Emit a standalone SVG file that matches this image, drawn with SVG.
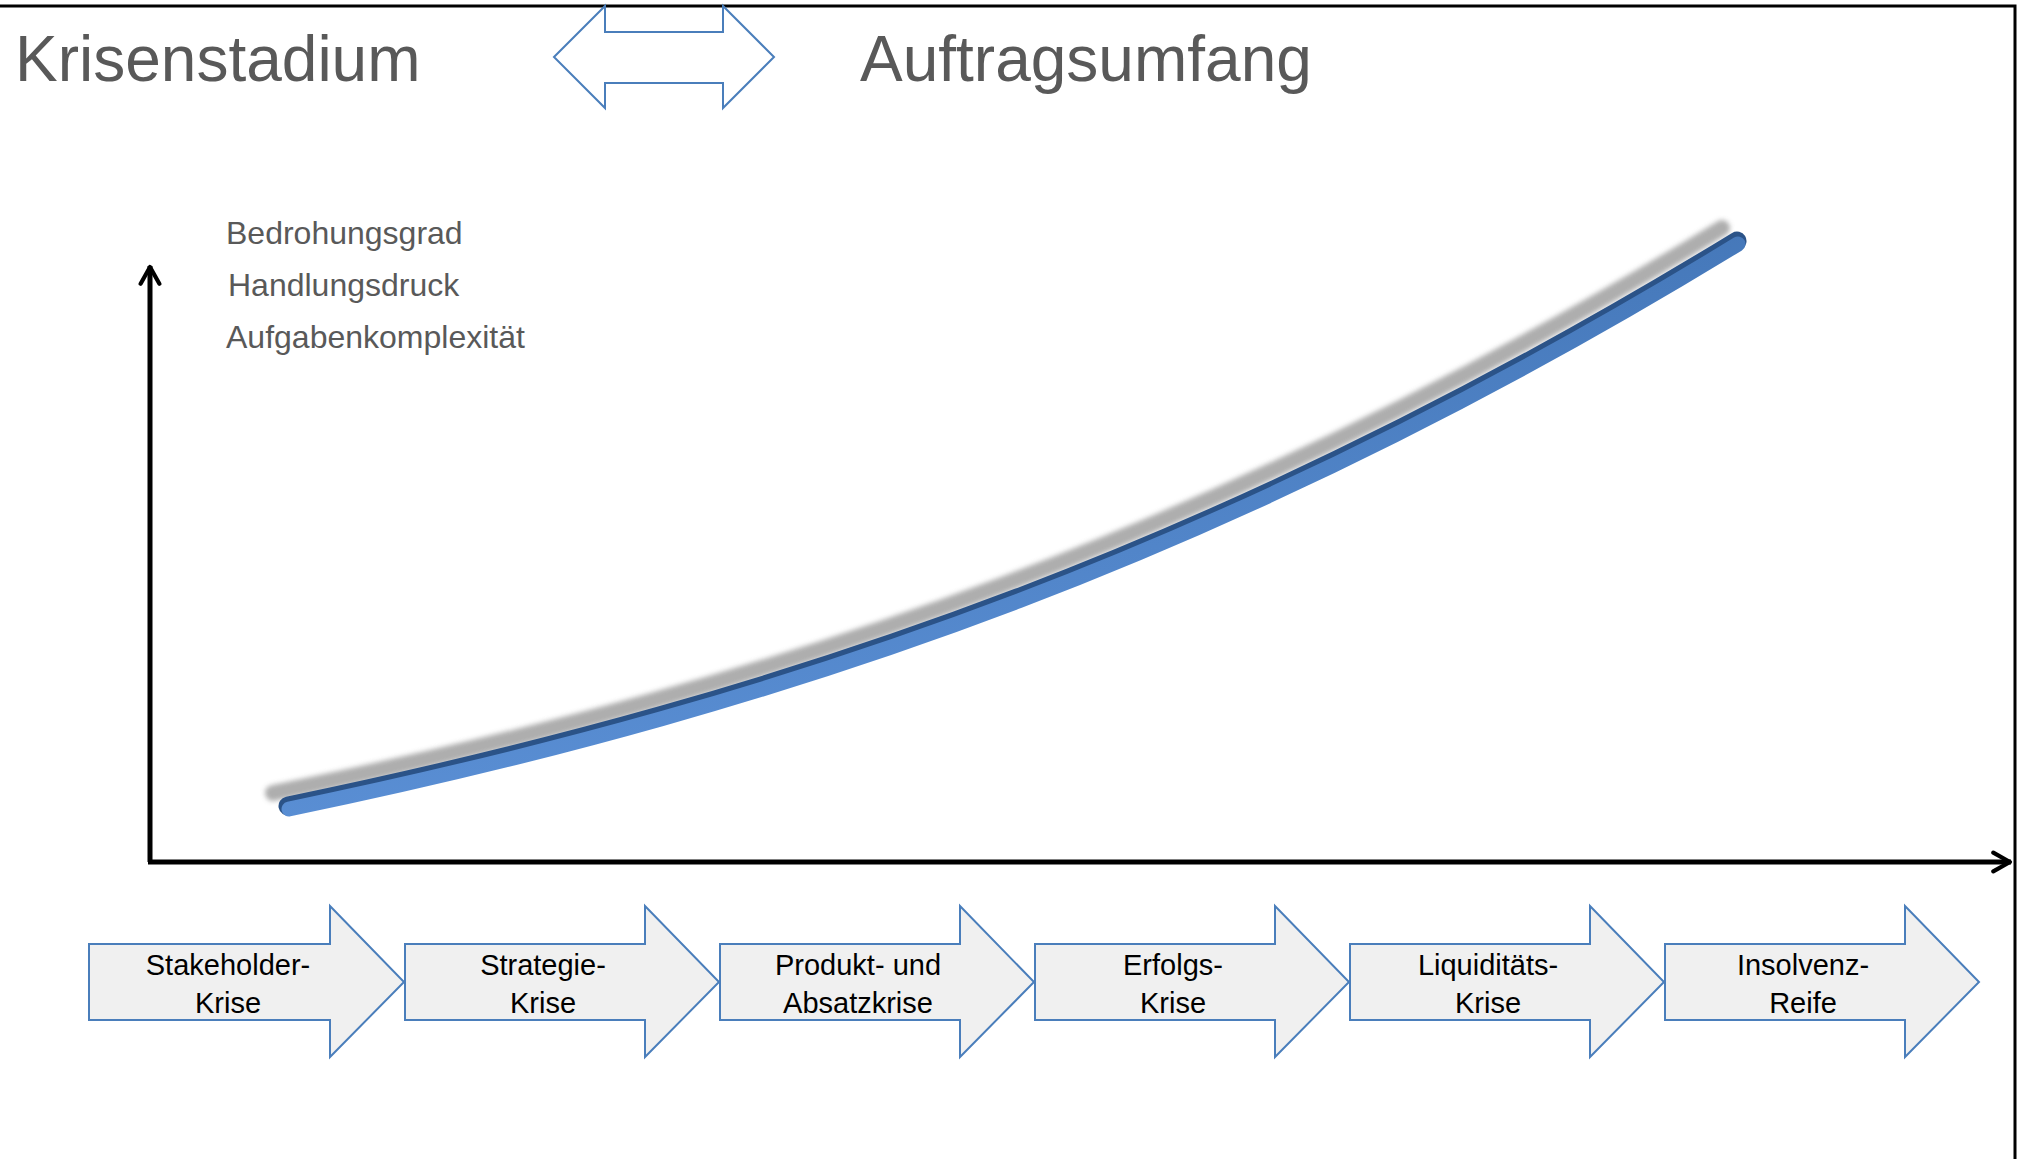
<svg xmlns="http://www.w3.org/2000/svg" width="2022" height="1159" viewBox="0 0 2022 1159">
<defs>
<style>
.title{font-family:"Liberation Sans",Arial,sans-serif;font-size:64px;fill:#595959}
.ylab{font-family:"Liberation Sans",Arial,sans-serif;font-size:32px;fill:#595959}
.phase{fill:#f0f0f0;stroke:#4a7ebb;stroke-width:2}
.ptxt{font-family:"Liberation Sans",Arial,sans-serif;font-size:29px;fill:#000;text-anchor:middle}
.axis{fill:none;stroke:#000;stroke-width:5}
</style>
<marker id="ah" viewBox="0 0 12 12" refX="10.5" refY="6" markerWidth="5" markerHeight="5" markerUnits="strokeWidth" orient="auto">
<path d="M2,1.5 L10,6 L2,10.5" fill="none" stroke="#000" stroke-width="2" stroke-linecap="round" stroke-linejoin="round"/>
</marker>
<filter id="blur" x="-10%" y="-10%" width="120%" height="120%"><feGaussianBlur stdDeviation="2.5"/></filter>
<linearGradient id="tube" x1="0" y1="0" x2="0.3" y2="1">
<stop offset="0" stop-color="#3e70b0"/>
<stop offset="1" stop-color="#5b90d6"/>
</linearGradient>
</defs>
<rect width="2022" height="1159" fill="#fff"/>
<path d="M0,6 H2015 V1159" fill="none" stroke="#000" stroke-width="3"/>

<g id="title-left"><text class="title" x="15" y="81">Krisenstadium</text></g>
<g id="double-arrow"><polygon points="554,57 605,6 605,32 723,32 723,6 774,57 723,108 723,83 605,83 605,108" fill="#fff" stroke="#4a7ebb" stroke-width="2"/></g>
<g id="title-right"><text class="title" x="860" y="81">Auftragsumfang</text></g>

<g id="y-labels">
<text class="ylab" x="226" y="244">Bedrohungsgrad</text>
<text class="ylab" x="228" y="296">Handlungsdruck</text>
<text class="ylab" x="226" y="348">Aufgabenkomplexität</text>
</g>

<g id="connectors">
<line class="axis" x1="150" y1="862" x2="150" y2="266" marker-end="url(#ah)"/>
<line class="axis" x1="148" y1="862" x2="2011" y2="862" marker-end="url(#ah)"/>
</g>

<g id="curve">
<path d="M288,806 C800,700 1240,545 1737,241" transform="translate(-15,-13)" fill="none" stroke="#9a9a9a" stroke-width="16" stroke-linecap="round" opacity="0.8" filter="url(#blur)"/>
<path d="M288,806 C800,700 1240,545 1737,241" fill="none" stroke="#2b5388" stroke-width="19" stroke-linecap="round"/>
<path d="M288,806 C800,700 1240,545 1737,241" transform="translate(1,3)" fill="none" stroke="url(#tube)" stroke-width="15" stroke-linecap="round"/>
</g>

<g id="phase-1"><polygon class="phase" points="89,944 330,944 330,906 404,982 330,1057 330,1020 89,1020"/><text class="ptxt" x="228" y="975">Stakeholder-</text><text class="ptxt" x="228" y="1013">Krise</text></g>
<g id="phase-2"><polygon class="phase" points="405,944 645,944 645,906 719,982 645,1057 645,1020 405,1020"/><text class="ptxt" x="543" y="975">Strategie-</text><text class="ptxt" x="543" y="1013">Krise</text></g>
<g id="phase-3"><polygon class="phase" points="720,944 960,944 960,906 1034,982 960,1057 960,1020 720,1020"/><text class="ptxt" x="858" y="975">Produkt- und</text><text class="ptxt" x="858" y="1013">Absatzkrise</text></g>
<g id="phase-4"><polygon class="phase" points="1035,944 1275,944 1275,906 1349,982 1275,1057 1275,1020 1035,1020"/><text class="ptxt" x="1173" y="975">Erfolgs-</text><text class="ptxt" x="1173" y="1013">Krise</text></g>
<g id="phase-5"><polygon class="phase" points="1350,944 1590,944 1590,906 1664,982 1590,1057 1590,1020 1350,1020"/><text class="ptxt" x="1488" y="975">Liquiditäts-</text><text class="ptxt" x="1488" y="1013">Krise</text></g>
<g id="phase-6"><polygon class="phase" points="1665,944 1905,944 1905,906 1979,982 1905,1057 1905,1020 1665,1020"/><text class="ptxt" x="1803" y="975">Insolvenz-</text><text class="ptxt" x="1803" y="1013">Reife</text></g>
</svg>
